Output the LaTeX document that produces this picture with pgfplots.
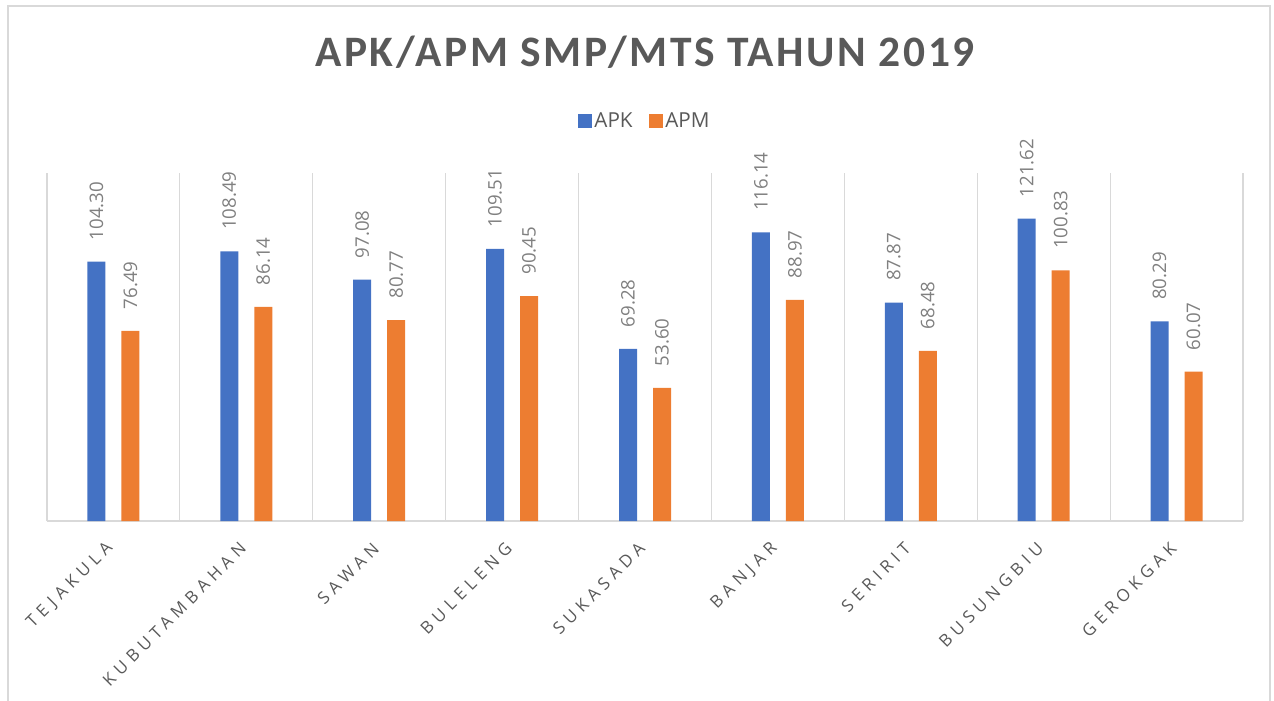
\documentclass[border=0pt]{standalone}
\usepackage{pgfplots}
\pgfplotsset{compat=1.18}
\usepackage{fontspec}
\setmainfont{Carlito}
\newfontfamily\osans{Open Sans}
\definecolor{apk}{HTML}{4472C4}
\definecolor{apm}{HTML}{ED7D31}
\definecolor{gridc}{HTML}{D9D9D9}
\definecolor{txt}{HTML}{595959}
\definecolor{lbl}{HTML}{808080}
\begin{document}
\begin{tikzpicture}
\path[use as bounding box] (-35.25pt,-134.25pt) rectangle (920.25pt,390.75pt);
\draw[gridc, line width=1.5pt] (-29.25pt,-140pt) -- (-29.25pt,386.25pt) -- (917.25pt,386.25pt) -- (917.25pt,-140pt);
\begin{axis}[at={(0,0)}, anchor=south west, scale only axis,
  width=897pt, height=261pt,
  ybar=12pt, bar width=13.5pt,
  xmin=-0.5, xmax=8.5, ymin=0, ymax=140,
  xtick={0,...,8},
  xticklabels={TEJAKULA,KUBUTAMBAHAN,SAWAN,BULELENG,SUKASADA,BANJAR,SERIRIT,BUSUNGBIU,GEROKGAK},
  minor xtick={-0.5,0.5,...,8.5},
  xminorgrids=true,
  minor grid style={gridc, line width=0.9pt},
  major tick length=0pt, minor tick length=0pt,
  axis x line*=bottom, axis y line=none,
  axis line style={gridc, line width=1pt, -},
  ytick=\empty,
  /pgf/number format/assume math mode=true,
  xticklabel style={font=\osans\fontsize{12.75}{13}\selectfont\addfontfeatures{LetterSpace=30}, color=txt, yshift=-16pt, rotate=45, anchor=east},
  title={APK/APM SMP/MTS TAHUN 2019},
  title style={at={(0.5,1.284)}, anchor=base, font=\bfseries\fontsize{32.6}{33}\selectfont\addfontfeatures{LetterSpace=6}, color=txt},
  legend style={at={(0.5,1.149)}, anchor=center, draw=none, legend columns=2, font=\osans\fontsize{15.5}{16}\selectfont, text=txt,
    /tikz/every even column/.append style={column sep=10pt}},
  legend image code/.code={\fill[#1, draw=none] (0pt,-5.25pt) rectangle (10.5pt,5.25pt);},
  nodes near coords={\pgfmathprintnumber[fixed, fixed zerofill, precision=2]{\pgfplotspointmeta}},
  nodes near coords style={rotate=90, anchor=west, inner xsep=16pt, inner ysep=0pt, font=\osans\fontsize{14}{14}\selectfont, color=lbl},
]
\addplot[fill=apk, draw=none] coordinates {(0,104.30) (1,108.49) (2,97.08) (3,109.51) (4,69.28) (5,116.14) (6,87.87) (7,121.62) (8,80.29)};
\addplot[fill=apm, draw=none] coordinates {(0,76.49) (1,86.14) (2,80.77) (3,90.45) (4,53.60) (5,88.97) (6,68.48) (7,100.83) (8,60.07)};
\legend{APK,APM}
\end{axis}
\end{tikzpicture}
\end{document}
